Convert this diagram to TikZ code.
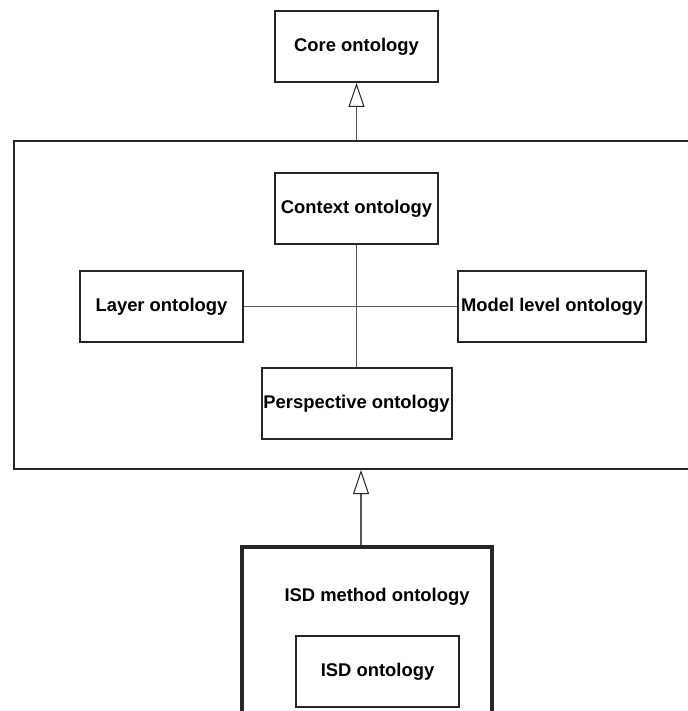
\documentclass[tikz,border=0pt]{standalone}
\usepackage{fontspec}
\setmainfont{Liberation Sans}
\usetikzlibrary{arrows.meta}

\begin{document}
\begin{tikzpicture}[x=0.5pt,y=-0.5pt,
    onto/.style={draw=black!85,line width=1pt,fill=white,inner sep=0pt,
        minimum width=81.5pt,minimum height=35.5pt,
        font=\fontsize{9.2}{11}\selectfont\bfseries},
    link/.style={draw=black!65,line width=0.65pt},
    isa/.style={link,-{Triangle[open,length=12pt,width=8pt,fill=white,color=black!85,line width=0.5pt]}}]
    \useasboundingbox (0,0) rectangle (688,711);
    \clip (0,0) rectangle (688,711);

    % outer boxes
    \node[onto,minimum width=343pt,minimum height=164pt] (domain) at (357,305) {};
    \node[onto,line width=2pt,minimum width=125pt,minimum height=100pt] (method) at (367,647) {};

    % top level
    \node[onto] (core) at (356.5,46.5)
            {Core ontology};

    % the four parts of the middle level
    \node[onto] (context) at (356.5,208.5)
            {Context ontology};
    \node[onto] (layer) at (161.5,306.5)
            {Layer ontology};
    \node[onto,minimum width=94pt] (model) at (552,306.5)
            {Model level ontology};
    \node[onto,minimum width=95pt] (persp) at (356.5,403.5)
            {Perspective ontology};

    % bottom level
    \node[font=\fontsize{9.2}{11}\selectfont\bfseries] (methodlbl) at (377,597)
            {ISD method ontology};
    \node[onto] (isd) at (377.5,671.5)
            {ISD ontology};

    % connectors
    \draw[link] (context) -- (persp);
    \draw[link] (layer) -- (model);
    \draw[isa] (domain.north -| core.south) -- (core.south);
    \draw[isa] ([xshift=-3pt]method.north) -- ([xshift=-3pt]method.north |- domain.south);
\end{tikzpicture}
\end{document}
